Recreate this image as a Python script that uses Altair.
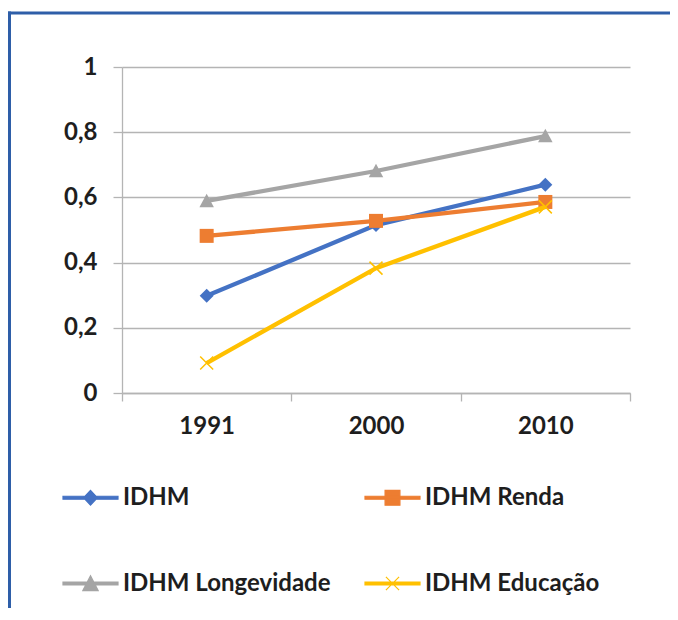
import altair as alt
import pandas as pd

years = ["1991", "2000", "2010"]
series = ["IDHM", "IDHM Renda", "IDHM Longevidade", "IDHM Educação"]
idhm = [0.298, 0.515, 0.639]
renda = [0.482, 0.528, 0.586]
longevidade = [0.589, 0.681, 0.788]
educacao = [0.092, 0.383, 0.571]
colors = ["#4472C4", "#ED7D31", "#A5A5A5", "#FFC000"]
y_ticks = [0, 0.2, 0.4, 0.6, 0.8, 1]

values = [idhm, renda, longevidade, educacao]
rows = []
for s, vals in zip(series, values):
    for yr, v in zip(years, vals):
        rows.append({"ano": yr, "serie": s, "valor": v})
df = pd.DataFrame(rows)

FONT = "Lato"
GRID = "#b4b4b4"

chart_shapes = [
    "M0,-1L1,0L0,1L-1,0Z",
    "M-1,-1H1V1H-1Z",
    "M0,-1L1,0.85H-1Z",
    "M-1,-1L1,1M1,-1L-1,1",
]
chart_filled = [True, True, True, False]
chart_sizes = [196, 196, 210, 169]

line_part = "M-1,-0.055H1V0.055H-1Z"
legend_shapes = [
    line_part + "M0,-0.27L0.25,0L0,0.27L-0.25,0Z",
    line_part + "M-0.27,-0.27H0.27V0.27H-0.27Z",
    line_part + "M0,-0.28L0.28,0.26H-0.28Z",
    line_part + "M-0.24,-0.24L0.24,0.24M0.24,-0.24L-0.24,0.24",
]

xenc = alt.X(
    "ano:N",
    sort=years,
    scale=alt.Scale(domain=years, paddingInner=0, paddingOuter=0),
    axis=alt.Axis(
        title=None, labelAngle=0, tickBand="extent", grid=False,
        domainColor=GRID, domainWidth=1.3, tickColor=GRID, tickWidth=1.3, tickSize=8,
        labelFont=FONT, labelFontSize=24, labelFontWeight="bold", labelColor="#1e1e1e",
        labelPadding=13, labelBaseline="top",
    ),
)
yenc = alt.Y(
    "valor:Q",
    scale=alt.Scale(domain=[0, 1], nice=False, zero=True),
    axis=alt.Axis(
        title=None, values=y_ticks,
        labelExpr="replace(format(datum.value, '~g'), '.', ',')",
        grid=True, gridColor=GRID, gridWidth=1.3,
        domainColor=GRID, domainWidth=1.3, tickColor=GRID, tickWidth=1.3, tickSize=9,
        labelFont=FONT, labelFontSize=24, labelFontWeight="bold", labelColor="#1e1e1e",
        labelPadding=16,
    ),
)
color = alt.Color("serie:N", scale=alt.Scale(domain=series, range=colors), legend=None)

base = alt.Chart(df)

leg = alt.Legend(
    title=None, orient="none", legendX=-60, legendY=402, direction="horizontal", columns=2,
    symbolSize=3025, symbolStrokeWidth=1.2, symbolOpacity=1,
    labelFont=FONT, labelFontSize=24, labelFontWeight="bold", labelColor="#1e1e1e",
    labelOffset=4, columnPadding=31, rowPadding=45, labelLimit=400,
)
# invisible (size 0) points that only carry the legend
legend_layer = base.mark_point(filled=True, size=0, strokeWidth=0).encode(
    x=xenc, y=yenc,
    fill=alt.Fill("serie:N", scale=alt.Scale(domain=series, range=colors), legend=leg),
    stroke=alt.Stroke("serie:N", scale=alt.Scale(domain=series, range=colors), legend=leg),
    shape=alt.Shape("serie:N", scale=alt.Scale(domain=series, range=legend_shapes), legend=leg),
)

layers = []
for i, s in enumerate(series):
    sub = base.transform_filter(alt.datum.serie == s)
    layers.append(sub.mark_line(strokeWidth=4.3).encode(x=xenc, y=yenc, color=color))
    layers.append(
        sub.mark_point(
            shape=chart_shapes[i], filled=chart_filled[i], size=chart_sizes[i],
            opacity=1, strokeWidth=1.5,
        ).encode(x=xenc, y=yenc, color=color)
    )

frame = pd.DataFrame({"k": [0]})
BORDER = "#2E5EA8"
top_border = alt.Chart(frame).mark_rule(color=BORDER, strokeWidth=3).encode(
    x=alt.value(-114), x2=alt.value(548), y=alt.value(-54)
)
left_border = alt.Chart(frame).mark_rule(color=BORDER, strokeWidth=3).encode(
    x=alt.value(-112.5), y=alt.value(-55.5), y2=alt.value(541)
)

chart = alt.layer(top_border, left_border, legend_layer, *layers).properties(
    width=508, height=326,
    autosize=alt.AutoSizeParams(type="none"),
    padding={"left": 114, "top": 59, "right": 40, "bottom": 215},
    background="white",
).configure_view(stroke=None)

chart.save("out.html", embed_options={"renderer": "svg", "actions": False})
